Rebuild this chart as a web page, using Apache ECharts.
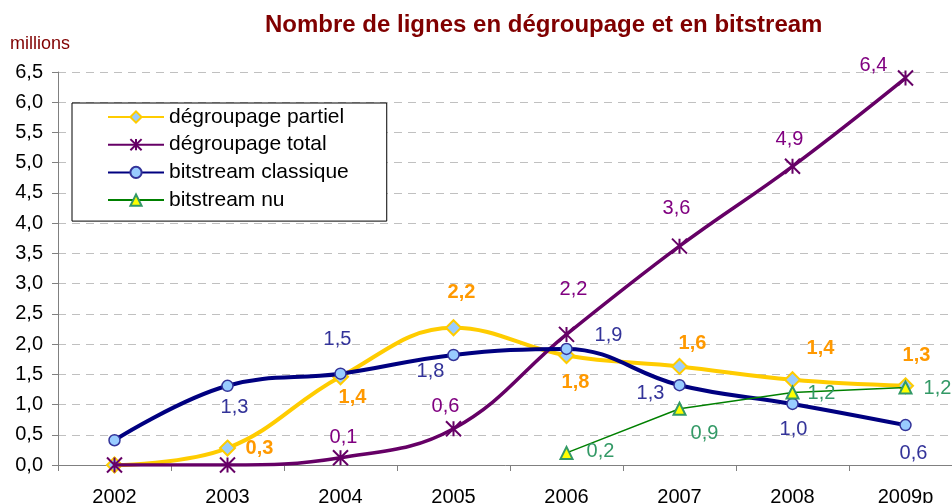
<!DOCTYPE html>
<html>
<head>
<meta charset="utf-8">
<script src="https://cdn.jsdelivr.net/npm/echarts@6/dist/echarts.min.js"></script>
<style>
html,body{margin:0;padding:0;background:#fff;}
#chart{width:952px;height:503px;}
</style>
</head>
<body>
<div id="chart"></div>
<script>
const categories = ['2002', '2003', '2004', '2005', '2006', '2007', '2008', '2009p'];

const partiel = [0, 0.28, 1.46, 2.27, 1.81, 1.63, 1.41, 1.31];
const partielLabels = ['', '0,3', '1,4', '2,2', '1,8', '1,6', '1,4', '1,3'];

const total = [0, 0, 0.12, 0.6, 2.16, 3.62, 4.94, 6.4];
const totalLabels = ['', '', '0,1', '0,6', '2,2', '3,6', '4,9', '6,4'];

const classique = [0.41, 1.31, 1.51, 1.82, 1.92, 1.32, 1.01, 0.66];
const classiqueLabels = ['', '1,3', '1,5', '1,8', '1,9', '1,3', '1,0', '0,6'];

const nu = [null, null, null, null, 0.2, 0.93, 1.2, 1.28];
const nuLabels = ['', '', '', '', '0,2', '0,9', '1,2', '1,2'];

const seriesNames = ['dégroupage partiel', 'dégroupage total', 'bitstream classique', 'bitstream nu'];

// label placement (layout only)
const partielOff = [null, [32, 0], [12, 21], [8, -35], [9, 27], [13, -23], [28, -31], [11, -30]];
const totalOff = [null, null, [3, -20], [-8, -22], [7, -45], [-3, -38], [-3, -27], [-32, -13]];
const classiqueOff = [null, [7, 22], [-3, -34], [-23, 17], [42, -13], [-29, 8], [1, 26], [8, 28]];
const nuOff = [null, null, null, null, [34, -1], [25, 25], [29, 1], [32, 1]];

const FONT = 'Arial, "Liberation Sans", sans-serif';

function build(values, labels, offs, color, bold) {
  return values.map((v, i) => ({
    value: v,
    label: {
      show: !!labels[i],
      formatter: labels[i] || '',
      position: 'inside',
      offset: offs[i] || [0, 0],
      color: color,
      fontSize: 20,
      fontWeight: bold ? 'bold' : 'normal',
      fontFamily: FONT,
      align: 'center',
      verticalAlign: 'middle'
    }
  }));
}

const chart = echarts.init(document.getElementById('chart'), null, {renderer: 'canvas'});
chart.setOption({
  animation: false,
  backgroundColor: '#fff',
  title: {
    text: 'Nombre de lignes en dégroupage et en bitstream',
    left: 260,
    top: 8,
    textStyle: {color: '#800000', fontSize: 24, fontWeight: 'bold', fontFamily: FONT}
  },
  graphic: [{
    type: 'text',
    x: 10,
    y: 44,
    style: {text: 'millions', fill: '#800000', font: '18px ' + FONT, verticalAlign: 'middle'}
  }],
  legend: {
    orient: 'vertical',
    left: 72,
    top: 103,
    itemWidth: 56,
    itemHeight: 14,
    itemGap: 6.7,
    padding: [3.5, 38, 10.5, 35],
    borderColor: '#000',
    borderWidth: 1,
    backgroundColor: '#fff',
    textStyle: {fontSize: 21, color: '#000', lineHeight: 21, fontFamily: FONT},
    data: seriesNames
  },
  grid: {left: 58, right: -10, top: 72, bottom: 38, containLabel: false, outerBoundsMode: 'none'},
  xAxis: {
    type: 'category',
    data: categories,
    boundaryGap: true,
    axisLine: {lineStyle: {color: '#808080', width: 1}},
    axisTick: {show: true, length: 6, lineStyle: {color: '#808080'}},
    axisLabel: {fontSize: 20, color: '#000', margin: 22, fontFamily: FONT}
  },
  yAxis: {
    type: 'value',
    min: 0,
    max: 6.5,
    interval: 0.5,
    axisLine: {show: true, lineStyle: {color: '#808080', width: 1}},
    axisTick: {show: true, length: 6, lineStyle: {color: '#808080'}},
    axisLabel: {fontSize: 20, color: '#000', margin: 15, fontFamily: FONT,
      formatter: v => v.toFixed(1).replace('.', ',')},
    splitLine: {show: true, lineStyle: {color: '#c0c0c0', type: [8, 6], width: 1}}
  },
  series: [
    {
      name: seriesNames[0],
      type: 'line',
      smooth: 0.4,
      data: build(partiel, partielLabels, partielOff, '#FF9900', true),
      symbol: 'diamond',
      symbolSize: 15,
      lineStyle: {color: '#FFCC00', width: 4},
      itemStyle: {color: '#99CCFF', borderColor: '#FFCC00', borderWidth: 2},
      z: 2
    },
    {
      name: seriesNames[1],
      type: 'line',
      smooth: 0.4,
      data: build(total, totalLabels, totalOff, '#800080', false),
      symbol: 'path://M0,0L10,10M10,0L0,10M5,0L5,10',
      symbolSize: 15,
      lineStyle: {color: '#660066', width: 3.5},
      itemStyle: {color: 'rgba(0,0,0,0)', borderColor: '#660066', borderWidth: 2},
      z: 3
    },
    {
      name: seriesNames[2],
      type: 'line',
      smooth: 0.4,
      data: build(classique, classiqueLabels, classiqueOff, '#333399', false),
      symbol: 'circle',
      symbolSize: 11,
      lineStyle: {color: '#000080', width: 4},
      itemStyle: {color: '#99CCFF', borderColor: '#333399', borderWidth: 1.5},
      z: 4
    },
    {
      name: seriesNames[3],
      type: 'line',
      smooth: false,
      data: build(nu, nuLabels, nuOff, '#339966', false),
      symbol: 'triangle',
      symbolSize: 12,
      lineStyle: {color: '#008000', width: 1.5},
      itemStyle: {color: '#FFFF00', borderColor: '#339966', borderWidth: 2},
      z: 5
    }
  ]
});
</script>
</body>
</html>
